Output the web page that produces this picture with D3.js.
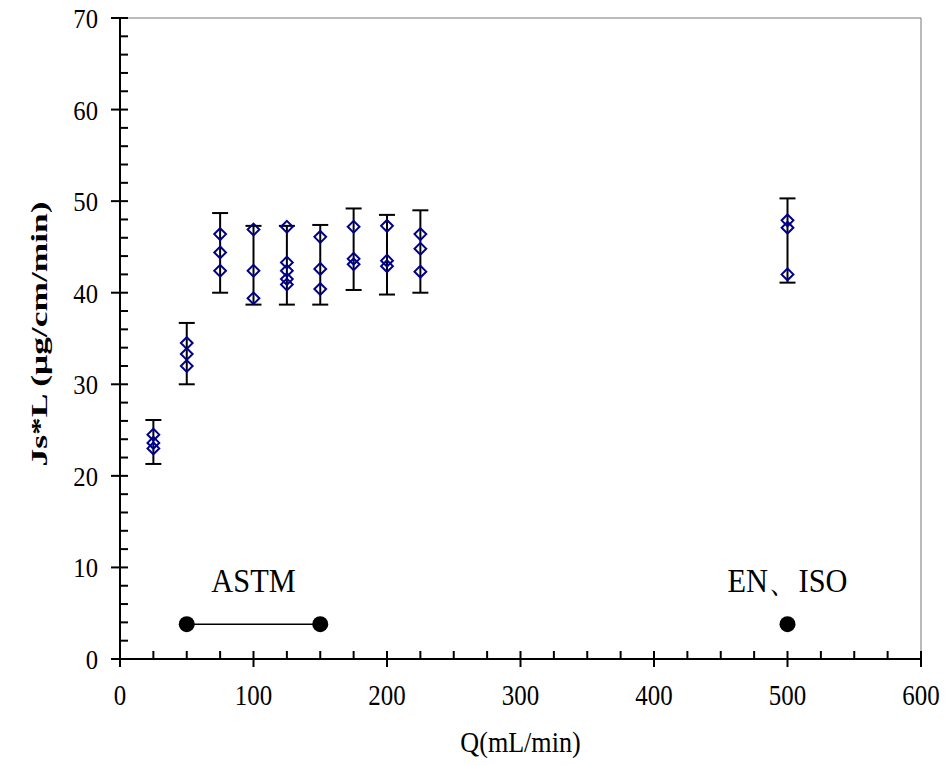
<!DOCTYPE html>
<meta charset="utf-8">
<head>
<script type="text/javascript" src="https://cdn.jsdelivr.net/npm/d3@7/dist/d3.min.js"></script>
<style>
	body { margin: 0; background: #fff; }
	text { font-family: "Liberation Serif", "DejaVu Serif", serif; fill: #000; }
</style>
</head>
<body>
<div id="chart"></div>
<script>

// flow rates (mL/min) and the replicate Js*L values measured at each one
var flows = [25, 50, 75, 100, 125, 150, 175, 200, 225, 500];
var replicates = [
	[24.5, 23.6, 23.0],
	[34.5, 33.3, 32.0],
	[46.4, 44.4, 42.4],
	[46.9, 42.4, 39.4],
	[47.2, 43.3, 42.4, 41.5, 40.9],
	[46.1, 42.6, 40.4],
	[47.2, 43.7, 43.1],
	[47.3, 43.5, 42.9],
	[46.4, 44.8, 42.3],
	[47.9, 47.1, 42.0]
];
var errLow  = [21.3, 30.0, 40.0, 38.7, 38.7, 38.7, 40.3, 39.8, 40.0, 41.1];
var errHigh = [26.1, 36.7, 48.7, 47.3, 47.3, 47.4, 49.2, 48.5, 49.0, 50.3];

// standard test flow ranges drawn along the bottom
var stdNames = ["ASTM", "EN\u3001ISO"];
var stdFlows = [[50, 150], [500]];
var stdLevel = 3.8;

var xTicks = [0, 100, 200, 300, 400, 500, 600];
var yTicks = [0, 10, 20, 30, 40, 50, 60, 70];

var width = 950, height = 765;

var svg = d3.select("#chart").append("svg")
	.attr("width", width)
	.attr("height", height);

var x = d3.scaleLinear().domain([0, 600]).range([120, 921]);
var y = d3.scaleLinear().domain([0, 70]).range([659, 18]);

// text in the original looks a bit narrow, squeeze it horizontally
function squeezed(g, px, py, sx, size, anchor, str) {
	return g.append("text")
		.attr("transform", "translate(" + px + "," + py + ") scale(" + sx + ",1)")
		.attr("text-anchor", anchor)
		.style("font-size", size + "px")
		.text(str);
}

// plot area frame (top & right)
svg.append("path")
	.attr("d", "M" + x(0) + "," + y(70) + "H" + x(600) + "V" + y(0))
	.attr("fill", "none")
	.attr("stroke", "#777")
	.attr("stroke-width", 1);

// minor ticks (inside)
var xMinor = d3.range(0, 601, 25).filter(function(v){ return v % 100 != 0; });
var yMinor = d3.range(0, 71, 2).filter(function(v){ return v % 10 != 0; });

svg.append("g").selectAll("line").data(xMinor).enter().append("line")
	.attr("x1", d => x(d)).attr("x2", d => x(d))
	.attr("y1", y(0)).attr("y2", y(0) - 8)
	.attr("stroke", "#000").attr("stroke-width", 2);

svg.append("g").selectAll("line").data(yMinor).enter().append("line")
	.attr("x1", x(0)).attr("x2", x(0) + 8)
	.attr("y1", d => y(d)).attr("y2", d => y(d))
	.attr("stroke", "#000").attr("stroke-width", 2);

// major ticks cross the axis
svg.append("g").selectAll("line").data(xTicks).enter().append("line")
	.attr("x1", d => x(d)).attr("x2", d => x(d))
	.attr("y1", y(0) - 8).attr("y2", y(0) + 8)
	.attr("stroke", "#000").attr("stroke-width", 2);

svg.append("g").selectAll("line").data(yTicks).enter().append("line")
	.attr("x1", x(0) - 9).attr("x2", x(0) + 8)
	.attr("y1", d => y(d)).attr("y2", d => y(d))
	.attr("stroke", "#000").attr("stroke-width", 2);

// axis lines
svg.append("line")
	.attr("x1", x(0)).attr("x2", x(600))
	.attr("y1", y(0)).attr("y2", y(0))
	.attr("stroke", "#000").attr("stroke-width", 2);
svg.append("line")
	.attr("x1", x(0)).attr("x2", x(0))
	.attr("y1", y(0)).attr("y2", y(70))
	.attr("stroke", "#000").attr("stroke-width", 2);

// tick labels
var xl = svg.append("g");
xTicks.forEach(function(t) { squeezed(xl, x(t), y(0) + 46, 0.86, 29, "middle", t); });

var yl = svg.append("g");
yTicks.forEach(function(t) { squeezed(yl, x(0) - 22, y(t) + 10, 0.88, 28, "end", t); });

// axis titles
squeezed(svg, (x(0) + x(600)) / 2, 752, 0.9, 29, "middle", "Q(mL/min)");

svg.append("text")
	.attr("transform", "translate(47," + y(35.5) + ") rotate(-90)")
	.attr("text-anchor", "middle")
	.attr("textLength", 265)
	.attr("lengthAdjust", "spacingAndGlyphs")
	.style("font-size", "23px")
	.style("font-weight", "bold")
	.text("Js*L (\u03bcg/cm/min)");

// error bars
var bars = svg.append("g");
flows.forEach(function(f, i) {
	bars.append("line")
		.attr("x1", x(f)).attr("x2", x(f))
		.attr("y1", y(errLow[i])).attr("y2", y(errHigh[i]))
		.attr("stroke", "#000").attr("stroke-width", 2);
	[errLow[i], errHigh[i]].forEach(function(v) {
		bars.append("line")
			.attr("x1", x(f) - 8).attr("x2", x(f) + 8)
			.attr("y1", y(v)).attr("y2", y(v))
			.attr("stroke", "#000").attr("stroke-width", 2);
	});
});

// replicate points as open diamonds
var points = [];
flows.forEach(function(f, i) {
	replicates[i].forEach(function(v) { points.push({q: f, v: v}); });
});

var diamond = d3.symbol().type(d3.symbolDiamond2).size(88);
svg.append("g").selectAll("path").data(points).enter().append("path")
	.attr("d", diamond)
	.attr("transform", d => "translate(" + x(d.q) + "," + y(d.v) + ")")
	.attr("fill", "none")
	.attr("stroke", "#00008b")
	.attr("stroke-width", 2);

// standards markers
var std = svg.append("g");
stdFlows.forEach(function(fl, i) {
	if (fl.length > 1) {
		std.append("line")
			.attr("x1", x(fl[0])).attr("x2", x(fl[1]))
			.attr("y1", y(stdLevel)).attr("y2", y(stdLevel))
			.attr("stroke", "#000").attr("stroke-width", 1.5);
	}
	fl.forEach(function(f) {
		std.append("circle")
			.attr("cx", x(f)).attr("cy", y(stdLevel))
			.attr("r", 8)
			.attr("fill", "#000");
	});
	squeezed(std, x(d3.mean(fl)), y(stdLevel) - 32, 0.92, 33, "middle", stdNames[i]);
});

</script>
</body>
</html>
